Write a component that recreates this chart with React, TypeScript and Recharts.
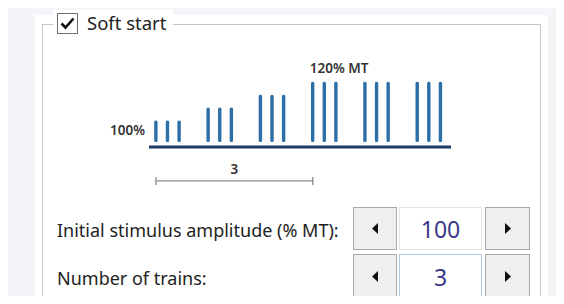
import React from 'react';
import { ComposedChart, Bar, XAxis, YAxis, ReferenceLine, ReferenceDot } from 'recharts';

// pulse trains of the soft start ramp (time in pulse intervals)
const trainStarts = [0, 4.5, 9, 13.5, 18, 22.5];
const trainAmplitudes = [100, 106.7, 113.3, 120, 120, 120];
const pulseOffsets = [0, 1, 2];
const rampTrains = 3;
const startAmplitude = 100;
const targetAmplitude = 120;
const startLabel = '100%';
const targetLabel = '120% MT';

const amplitudeLabel = 'Initial stimulus amplitude (% MT):';
const trainsLabel = 'Number of trains:';

const pulses = trainStarts.flatMap((start, i) =>
  pulseOffsets.map((off) => ({ t: start + off, amp: trainAmplitudes[i] }))
);

const FONT = '"Segoe UI", "Noto Sans", "Open Sans", sans-serif';
const BRACKET_Y = 69;
const TICK = 2.05;

function Arrow({ dir }: { dir: 'left' | 'right' }) {
  return (
    <svg width={6} height={11} viewBox="0 0 6 11" style={{ display: 'block' }}>
      {dir === 'left' ? <path d="M6 0 L0 5.5 L6 11 Z" fill="#111" /> : <path d="M0 0 L6 5.5 L0 11 Z" fill="#111" />}
    </svg>
  );
}

function Spinner({ top, h, value, focused }: { top: number; h: number; value: number; focused?: boolean }) {
  const btn: React.CSSProperties = {
    position: 'absolute',
    top,
    width: 44,
    height: h,
    background: '#efefef',
    border: '1px solid #a9a9a9',
    boxSizing: 'border-box',
    display: 'flex',
    alignItems: 'center',
    justifyContent: 'center',
  };
  return (
    <>
      <div style={{ ...btn, left: 353 }}>
        <Arrow dir="left" />
      </div>
      <div
        style={{
          position: 'absolute',
          top,
          left: 399,
          width: 83,
          height: h,
          boxSizing: 'border-box',
          border: focused ? '1px solid #a8cbeb' : '1px solid #e2e2e2',
          background: '#fff',
          display: 'flex',
          alignItems: 'center',
          justifyContent: 'center',
          fontSize: 23,
          color: '#3a3889',
        }}
      >
        {value}
      </div>
      <div style={{ ...btn, left: 485, width: 45 }}>
        <Arrow dir="right" />
      </div>
    </>
  );
}

export default function App() {
  return (
    <div
      style={{
        position: 'relative',
        width: 564,
        height: 304,
        margin: -8,
        overflow: 'hidden',
        background: '#f3f5f8',
        fontFamily: FONT,
      }}
    >
      <div style={{ position: 'absolute', left: 35, top: 15, width: 513, height: 300, background: '#fff' }} />
      {/* group box */}
      <div
        style={{
          position: 'absolute',
          left: 42,
          top: 24,
          width: 499,
          height: 300,
          boxSizing: 'border-box',
          border: '1px solid #c6c6c6',
        }}
      />
      <div style={{ position: 'absolute', left: 53, top: 10, width: 120, height: 28, background: '#fff' }} />
      <div
        style={{
          position: 'absolute',
          left: 57,
          top: 13,
          width: 21,
          height: 21,
          boxSizing: 'border-box',
          border: '1px solid #6f6f6f',
          background: '#fff',
        }}
      >
        <svg width={19} height={19} viewBox="0 0 19 19" style={{ display: 'block' }}>
          <path d="M3.5 9.5 L7.5 13.5 L15.5 4.5" fill="none" stroke="#111" strokeWidth={2.6} />
        </svg>
      </div>
      <div style={{ position: 'absolute', left: 87, top: 10, fontSize: 18.5, color: '#222', lineHeight: '26px' }}>
        Soft start
      </div>

      <div style={{ position: 'absolute', left: 0, top: 0 }}>
        <ComposedChart width={564} height={200} data={pulses} margin={{ top: 72, right: 113, bottom: 51, left: 149 }}>
          <XAxis
            dataKey="t"
            type="number"
            domain={[-0.6, 25.4]}
            height={2}
            tick={false}
            tickLine={false}
            axisLine={{ stroke: '#1d3a63', strokeWidth: 3 }}
          />
          <YAxis hide domain={[89, 125]} padding={{ top: 0, bottom: 5 }} />
          <Bar dataKey="amp" barSize={3.4} fill="#2c6ea6" radius={1.5} isAnimationActive={false} />
          <ReferenceDot
            x={trainStarts[0]}
            y={startAmplitude}
            r={0}
            ifOverflow="visible"
            label={(p: any) => (
              <text
                x={p.viewBox.x - 11}
                y={p.viewBox.y + 14}
                textAnchor="end"
                fontSize={13.5}
                fontWeight={600}
                fill="#333"
                fontFamily={FONT}
              >
                {startLabel}
              </text>
            )}
          />
          <ReferenceDot
            x={trainStarts[rampTrains]}
            y={targetAmplitude}
            r={0}
            ifOverflow="visible"
            label={(p: any) => (
              <text
                x={p.viewBox.x - 3}
                y={p.viewBox.y - 9}
                textAnchor="start"
                fontSize={13.5}
                fontWeight={600}
                fill="#333"
                fontFamily={FONT}
              >
                {targetLabel}
              </text>
            )}
          />
          <ReferenceLine
            ifOverflow="visible"
            segment={[
              { x: trainStarts[0], y: BRACKET_Y },
              { x: trainStarts[rampTrains], y: BRACKET_Y },
            ]}
            stroke="#8a8a8a"
            strokeWidth={1.3}
            label={{ value: String(rampTrains), position: 'top', offset: 7, fontSize: 13.5, fontWeight: 600, fill: '#333' }}
          />
          <ReferenceLine
            ifOverflow="visible"
            segment={[
              { x: trainStarts[0], y: BRACKET_Y - TICK },
              { x: trainStarts[0], y: BRACKET_Y + TICK },
            ]}
            stroke="#8a8a8a"
            strokeWidth={1.3}
          />
          <ReferenceLine
            ifOverflow="visible"
            segment={[
              { x: trainStarts[rampTrains], y: BRACKET_Y - TICK },
              { x: trainStarts[rampTrains], y: BRACKET_Y + TICK },
            ]}
            stroke="#8a8a8a"
            strokeWidth={1.3}
          />
        </ComposedChart>
      </div>

      <div style={{ position: 'absolute', left: 57, top: 217, fontSize: 18, color: '#222', lineHeight: '26px' }}>
        {amplitudeLabel}
      </div>
      <Spinner top={207} h={43} value={startAmplitude} />
      <div style={{ position: 'absolute', left: 57, top: 265, fontSize: 18, color: '#222', lineHeight: '26px' }}>
        {trainsLabel}
      </div>
      <Spinner top={254} h={45} value={rampTrains} focused />
    </div>
  );
}
